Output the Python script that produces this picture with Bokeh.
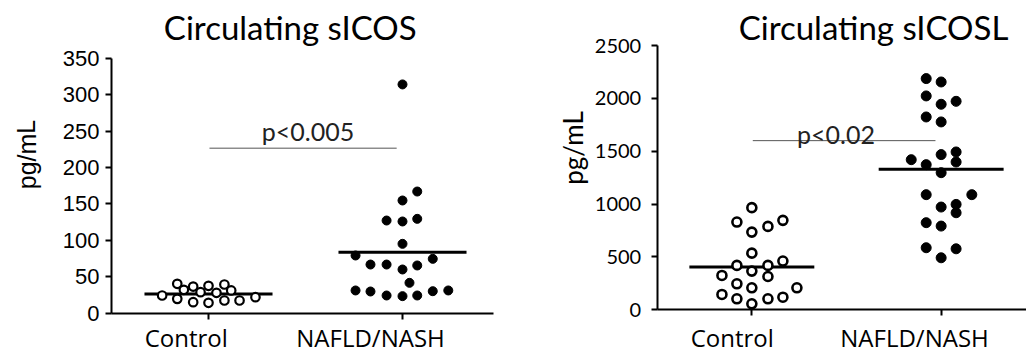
from bokeh.plotting import figure
from bokeh.layouts import row
from bokeh.models import Range1d, FixedTicker, Label, ColumnDataSource
from bokeh.embed import file_html
from bokeh.resources import INLINE

categories = ["Control", "NAFLD/NASH"]

# Circulating sICOS (pg/mL)
sicos_control = [40.3, 36.6, 37.6, 39.4, 32.1, 28.8, 28.0, 31.2,
                 24.3, 19.7, 15.1, 14.3, 17.4, 17.4, 22.0]
sicos_control_jitter = [-0.161, -0.079, 0.0, 0.082, -0.127, -0.041, 0.041, 0.117,
                        -0.239, -0.161, -0.079, 0.0, 0.082, 0.160, 0.242]
sicos_nash = [314, 167, 154.7, 127.2, 125.9, 129.5, 95.2, 79.2, 66.8, 66.8, 60.0,
              65.5, 74.6, 41.7, 31.2, 29.8, 24.3, 23.4, 24.3, 30.2, 31.2]
sicos_nash_jitter = [0.0, 0.076, 0.0, -0.082, 0.0, 0.076, 0.0, -0.242, -0.165, -0.082, 0.0,
                     0.076, 0.156, 0.036, -0.242, -0.165, -0.082, 0.0, 0.076, 0.156, 0.236]
sicos_medians = [26.5, 83.7]
sicos_p_text = "p<0.005"
sicos_p_level = 226.5
sicos_ticks = [0, 50, 100, 150, 200, 250, 300, 350]

# Circulating sICOSL (pg/mL)
sicosl_control = [966, 830, 789, 846, 735, 536, 420, 420, 461, 366,
                  325, 315, 246, 208, 208, 145, 104, 104, 119, 57]
sicosl_control_jitter = [0.0, -0.079, 0.085, 0.164, 0.0, 0.0, -0.079, 0.085, 0.164, 0.0,
                         -0.158, 0.085, -0.079, 0.0, 0.238, -0.158, -0.079, 0.085, 0.164, 0.0]
sicosl_nash = [2187, 2155, 2023, 1944, 1972, 1824, 1777, 1493, 1468, 1420, 1398, 1373,
               1297, 1089, 1089, 972, 997, 918, 824, 792, 587, 577, 492]
sicosl_nash_jitter = [-0.079, 0.0, -0.079, 0.0, 0.079, -0.079, 0.0, 0.079, 0.0, -0.158, 0.079, -0.079,
                      0.0, -0.079, 0.162, 0.0, 0.079, 0.079, -0.079, 0.0, -0.079, 0.079, 0.0]
sicosl_medians = [404, 1329]
sicosl_p_text = "p<0.02"
sicosl_p_level = 1600
sicosl_ticks = [0, 500, 1000, 1500, 2000, 2500]

TITLE_FONT = "Lato"
CAT_FONT = "Open Sans"
H = 354


def make_panel(title, ctrl, ctrl_j, nash, nash_j, medians, p_text, p_level, ticks,
               width, axis_px, zero_px, top_px, cat_px, axis_right_px,
               tick_font, tick_size, tick_standoff, ylab_font, ylab_size,
               title_pos, ylab_pos, cat_xs, cat_base, p_pos,
               open_size, open_lw, fill_size):
    ymax = ticks[-1]
    ppu_y = (zero_px - top_px) / ymax          # pixels per data unit (y)

    def dx(px):
        return 0.5 + (px - axis_px) / cat_px

    def dy(py):
        return (zero_px - py) / ppu_y

    # frame covers the whole canvas; axes drawn at fixed locations with bounds
    p = figure(width=width, height=H, output_backend="svg", toolbar_location=None,
               x_range=Range1d(dx(0), dx(width)), y_range=Range1d(dy(H), dy(0)),
               min_border_left=0, min_border_right=0, min_border_top=0, min_border_bottom=0)
    p.outline_line_color = None
    p.xgrid.visible = False
    p.ygrid.visible = False
    p.background_fill_color = "white"
    p.border_fill_color = "white"

    # y axis
    p.yaxis.fixed_location = 0.5
    p.yaxis.bounds = (0, ymax)
    p.yaxis.ticker = FixedTicker(ticks=ticks)
    p.yaxis.minor_tick_line_color = None
    p.yaxis.major_tick_in = 0
    p.yaxis.major_tick_out = 6
    p.yaxis.axis_line_width = 2
    p.yaxis.major_tick_line_width = 2
    p.yaxis.axis_line_color = "black"
    p.yaxis.major_tick_line_color = "black"
    p.yaxis.major_label_text_font = tick_font
    p.yaxis.major_label_text_font_size = tick_size
    p.yaxis.major_label_text_color = "black"
    p.yaxis.major_label_standoff = tick_standoff

    # x axis: ticks at category positions, category names drawn as text below
    p.xaxis.fixed_location = 0
    p.xaxis.bounds = (0.5, dx(axis_right_px))
    p.xaxis.ticker = FixedTicker(ticks=[1, 2])
    p.xaxis.major_label_overrides = {1: "", 2: ""}
    p.xaxis.minor_tick_line_color = None
    p.xaxis.major_tick_in = 0
    p.xaxis.major_tick_out = 6
    p.xaxis.axis_line_width = 2
    p.xaxis.major_tick_line_width = 2
    p.xaxis.axis_line_color = "black"
    p.xaxis.major_tick_line_color = "black"

    # p-value bracket
    p.segment(x0=[1.005], y0=[p_level], x1=[1.97], y1=[p_level],
              line_color="#555555", line_width=1)
    p.add_layout(Label(x=dx(p_pos[0]), y=dy(p_pos[1]), text=p_text, text_font=TITLE_FONT,
                       text_font_size="25px", text_color="#222222",
                       text_align="center", text_baseline="alphabetic"))

    # medians
    p.segment(x0=[1 - 0.33, 2 - 0.33], y0=medians, x1=[1 + 0.33, 2 + 0.33], y1=medians,
              line_color="black", line_width=3)

    # control: open circles
    src_c = ColumnDataSource(dict(x=[1 + j for j in ctrl_j], y=ctrl))
    p.scatter("x", "y", source=src_c, marker="circle", size=open_size,
              fill_color="white", line_color="black", line_width=open_lw)
    # NAFLD/NASH: filled circles
    src_n = ColumnDataSource(dict(x=[2 + j for j in nash_j], y=nash))
    p.scatter("x", "y", source=src_n, marker="circle", size=fill_size,
              fill_color="black", line_color="black", line_width=1)

    # title
    p.add_layout(Label(x=dx(title_pos[0]), y=dy(title_pos[1]), text=title, text_font=TITLE_FONT,
                       text_font_size="33px", text_color="black",
                       text_align="center", text_baseline="alphabetic"))
    # y label
    p.add_layout(Label(x=dx(ylab_pos[0]), y=dy(ylab_pos[1]), text="pg/mL", text_font=ylab_font,
                       text_font_size=ylab_size, text_color="black", angle=1.5708,
                       text_align="center", text_baseline="middle"))
    # category labels
    for i, c in enumerate(categories):
        p.add_layout(Label(x=dx(cat_xs[i]), y=dy(cat_base), text=c, text_font=CAT_FONT,
                           text_font_size="24px", text_color="black",
                           text_align="center", text_baseline="alphabetic"))
    return p


# positions below are in each canvas' own pixels
left = make_panel("Circulating sICOS", sicos_control, sicos_control_jitter,
                  sicos_nash, sicos_nash_jitter, sicos_medians, sicos_p_text, sicos_p_level,
                  sicos_ticks,
                  width=508, axis_px=111, zero_px=312.7, top_px=57.7, cat_px=194,
                  axis_right_px=493,
                  tick_font="Liberation Sans", tick_size="22px", tick_standoff=6,
                  ylab_font="Liberation Sans", ylab_size="25px",
                  title_pos=(289.7, 26), ylab_pos=(26, 154), cat_xs=(185.8, 370),
                  cat_base=337, p_pos=(307.5, 130),
                  open_size=8.5, open_lw=2.2, fill_size=9)

right = make_panel("Circulating sICOSL", sicosl_control, sicosl_control_jitter,
                   sicosl_nash, sicosl_nash_jitter, sicosl_medians, sicosl_p_text, sicosl_p_level,
                   sicosl_ticks,
                   width=518, axis_px=148.7, zero_px=309.3, top_px=45, cat_px=189.3,
                   axis_right_px=518,
                   tick_font="Lato", tick_size="20px", tick_standoff=10,
                   ylab_font="Lato", ylab_size="26px",
                   title_pos=(365, 26), ylab_pos=(64.5, 147.5), cat_xs=(223.7, 406),
                   cat_base=337, p_pos=(327.5, 133.7),
                   open_size=9, open_lw=2.6, fill_size=10)

layout = row(left, right)
open("out.html", "w").write(file_html(layout, INLINE))
